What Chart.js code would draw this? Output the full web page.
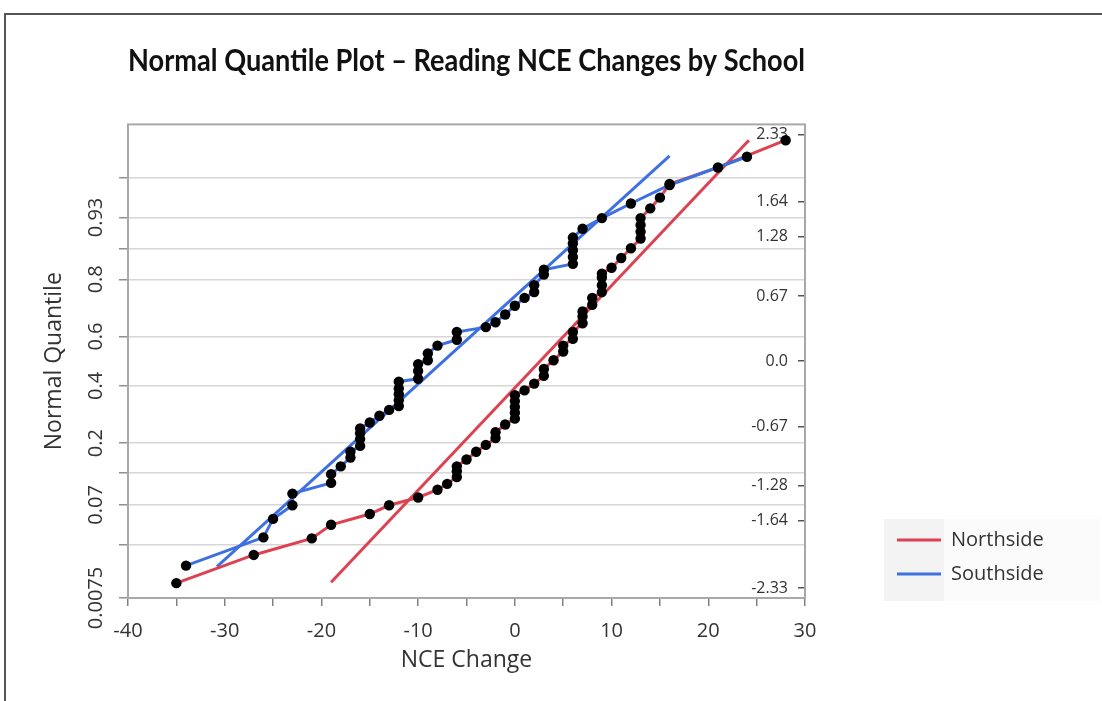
<!DOCTYPE html>
<html>
<head>
<meta charset="utf-8">
<script src="https://cdn.jsdelivr.net/npm/chart.js"></script>
<style>
body{margin:0;background:#fff;width:1102px;height:701px;overflow:hidden;position:relative}
.frame{position:absolute;left:4px;top:13px;width:1200px;height:800px;border-top:2px solid #555;border-left:2px solid #555}
#c{position:absolute;left:0;top:0}
</style>
</head>
<body>
<div class="frame"></div>
<canvas id="c" width="1102" height="701"></canvas>

<script>
/* =========================
   DATA (NCE change, normal quantile)
========================= */
const northX = [-35,-27,-21,-19,-15,-13,-10,-8,-7,-6,-6,-6,-5,-4,-3,-2,-2,-1,0,0,0,0,0,1,2,3,3,4,5,5,6,6,7,7,7,8,8,9,9,9,9,10,11,12,13,13,13,13,14,15,16,21,28];
const northZ = [-2.28,-1.99,-1.82,-1.68,-1.57,-1.48,-1.40,-1.32,-1.26,-1.19,-1.13,-1.08,-1.01,-0.93,-0.86,-0.79,-0.73,-0.65,-0.59,-0.53,-0.47,-0.41,-0.35,-0.30,-0.23,-0.15,-0.08,0.01,0.10,0.16,0.23,0.30,0.39,0.46,0.51,0.58,0.65,0.71,0.78,0.86,0.90,0.96,1.06,1.16,1.26,1.33,1.40,1.47,1.57,1.68,1.82,1.99,2.27];

const southX = [-34,-26,-25,-23,-23,-19,-19,-18,-17,-17,-16,-16,-16,-16,-15,-14,-13,-12,-12,-12,-12,-12,-10,-10,-10,-9,-9,-8,-6,-6,-3,-2,-1,0,1,2,2,3,3,6,6,6,6,6,7,9,12,16,24];
const southZ = [-2.10,-1.81,-1.62,-1.48,-1.36,-1.25,-1.16,-1.08,-0.99,-0.93,-0.87,-0.80,-0.74,-0.69,-0.63,-0.56,-0.50,-0.46,-0.40,-0.34,-0.28,-0.21,-0.18,-0.10,-0.03,0.01,0.08,0.16,0.22,0.30,0.35,0.40,0.48,0.57,0.65,0.71,0.78,0.89,0.94,1.00,1.07,1.14,1.21,1.27,1.36,1.47,1.62,1.81,2.10];

// fitted normal lines (end points)
const northFitX = [-19.0, 24.2];
const northFitZ = [-2.27, 2.27];
const southFitX = [-30.8, 16.0];
const southFitZ = [-2.11, 2.11];

// axes
const xTickValues = [-40,-35,-30,-25,-20,-15,-10,-5,0,5,10,15,20,25,30];
const xTickLabels = ['-40','','-30','','-20','','-10','','0','','10','','20','','30'];
const probTicks  = [0.0075,0.03,0.07,0.125,0.2,0.4,0.6,0.8,0.875,0.93,0.97];
const probLabels = ['0.0075','','0.07','','0.2','0.4','0.6','0.8','','0.93',''];
const zTicks  = [-2.33,-1.64,-1.28,-0.67,0,0.67,1.28,1.64,2.33];
const zLabels = ['-2.33','-1.64','-1.28','-0.67','0.0','0.67','1.28','1.64','2.33'];

/* =========================
   HELPERS
========================= */
// inverse normal cdf (Acklam) - probability axis transform
function qnorm(p){
  const a=[-39.69683028665376,220.9460984245205,-275.9285104469687,138.3577518672690,-30.66479806614716,2.506628277459239];
  const b=[-54.47609879822406,161.5858368580409,-155.6989798598866,66.80131188771972,-13.28068155288572];
  const c=[-0.007784894002430293,-0.3223964580411365,-2.400758277161838,-2.549732539343734,4.374664141464968,2.938163982698783];
  const d=[0.007784695709041462,0.3224671290700398,2.445134137142996,3.754408661907416];
  const lo=0.02425;
  let q,r;
  if(p<lo){q=Math.sqrt(-2*Math.log(p));return (((((c[0]*q+c[1])*q+c[2])*q+c[3])*q+c[4])*q+c[5])/((((d[0]*q+d[1])*q+d[2])*q+d[3])*q+1);}
  if(p>1-lo){q=Math.sqrt(-2*Math.log(1-p));return -(((((c[0]*q+c[1])*q+c[2])*q+c[3])*q+c[4])*q+c[5])/((((d[0]*q+d[1])*q+d[2])*q+d[3])*q+1);}
  q=p-0.5;r=q*q;
  return (((((a[0]*r+a[1])*r+a[2])*r+a[3])*r+a[4])*r+a[5])*q/(((((b[0]*r+b[1])*r+b[2])*r+b[3])*r+b[4])*r+1);
}

const pts=(xs,ys)=>xs.map((x,i)=>({x:x,y:ys[i]}));

const RED="#dc4252";
const BLUE="#3f70e2";
const TXT="#333";
const Z_MAX=qnorm(1-0.0075);
const LEGEND_LEFT=883;

/* =========================
   PLUGINS
========================= */
const decor={
  id:"decor",
  beforeDraw(chart){
    const {ctx,legend}=chart;
    if(!legend || !legend.legendHitBoxes || !legend.legendHitBoxes.length) return;
    const hb=legend.legendHitBoxes;
    const x0=hb[0].left-13, y0=hb[0].top-11;
    const y1=hb[hb.length-1].top+hb[hb.length-1].height+17;
    ctx.save();
    ctx.fillStyle="#fbfbfb";
    ctx.fillRect(x0,y0,chart.width-2-x0,y1-y0);
    ctx.fillStyle="#f3f3f3";
    ctx.fillRect(x0,y0,60,y1-y0);
    ctx.restore();
  },
  beforeDatasetsDraw(chart){
    const {ctx,chartArea:a}=chart;
    ctx.save();
    ctx.strokeStyle="#a8a8a8";
    ctx.lineWidth=2;
    ctx.strokeRect(a.left,a.top,a.right-a.left,a.bottom-a.top);
    ctx.restore();
  }
};

/* =========================
   CHART
========================= */
const lineSet=(label,data,color,order)=>({
  label:label,data:data,showLine:true,borderColor:color,backgroundColor:color,
  borderWidth:3,pointRadius:0,tension:0,order:order
});
const dotSet=(data)=>({
  label:"",data:data,showLine:false,pointRadius:5.2,pointBorderWidth:0,
  pointBackgroundColor:"#000",order:0
});

const chart=new Chart(document.getElementById("c"),{
  type:"scatter",
  data:{datasets:[
    lineSet("Northside",pts(northX,northZ),RED,3),
    lineSet("Southside",pts(southX,southZ),BLUE,2),
    lineSet("",pts(northFitX,northFitZ),RED,5),
    lineSet("",pts(southFitX,southFitZ),BLUE,4),
    dotSet(pts(northX,northZ)),
    dotSet(pts(southX,southZ))
  ]},
  options:{
    responsive:false,
    animation:false,
    events:[],
    layout:{padding:{left:0,top:0,right:58,bottom:0}},
    plugins:{
      tooltip:{enabled:false},
      title:{
        display:true,
        text:"Normal Quantile Plot – Reading NCE Changes by School",
        align:"start",
        fullSize:false,
        color:"#111",
        font:{family:"Lato",size:29.5,weight:"bold"},
        padding:{top:44,bottom:45}
      },
      legend:{
        position:"right",
        align:"end",
        fullSize:false,
        labels:{
          usePointStyle:true,
          pointStyle:"line",
          pointStyleWidth:44,
          padding:14,
          color:TXT,
          font:{family:"Open Sans",size:20},
          filter:item=>item.text!=="",
          sort:(a,b)=>a.datasetIndex-b.datasetIndex
        }
      }
    },
    scales:{
      x:{
        type:"linear",position:"bottom",min:-40,max:30,
        afterBuildTicks:s=>{s.ticks=xTickValues.map(v=>({value:v}));},
        afterFit:s=>{s.height=103;},
        border:{display:false},
        grid:{drawOnChartArea:false,drawTicks:true,tickLength:8,color:"#808080",lineWidth:1.5},
        ticks:{autoSkip:false,maxRotation:0,padding:13,color:TXT,font:{family:"Open Sans",size:20},
          callback:(v,i)=>xTickLabels[i]},
        title:{display:true,text:"NCE Change",color:TXT,font:{family:"Open Sans",size:23},padding:{top:0,bottom:27}}
      },
      y:{
        type:"linear",position:"left",min:-Z_MAX,max:Z_MAX,
        afterBuildTicks:s=>{s.ticks=probTicks.map(p=>({value:qnorm(p)}));},
        afterFit:s=>{s.width=128;},
        border:{display:false},
        grid:{color:"#d6d6d6",lineWidth:1.5,drawTicks:true,tickLength:9,
          tickColor:"#909090"},
        ticks:{autoSkip:false,minRotation:90,maxRotation:90,crossAlign:"center",padding:-9,
          color:TXT,font:{family:"Open Sans",size:20},
          callback:(v,i)=>probLabels[i]},
        title:{display:true,text:"Normal Quantile",color:TXT,font:{family:"Open Sans",size:23},padding:{top:41,bottom:0}}
      },
      y2:{
        type:"linear",position:"right",min:-Z_MAX,max:Z_MAX,
        afterBuildTicks:s=>{s.ticks=zTicks.map(v=>({value:v}));},
        afterFit:s=>{s.width=78;},
        border:{display:false},
        grid:{drawOnChartArea:false,drawTicks:true,tickLength:-7,color:"#555",lineWidth:1.5},
        ticks:{mirror:true,padding:-17,color:TXT,font:{family:"Open Sans",size:16},
          callback:(v,i)=>zLabels[i]}
      }
    }
  },
  plugins:[decor]
});

// second pass: legend width is known now, keep plot right edge in place
chart.options.layout.padding.right=chart.width-LEGEND_LEFT-chart.legend.width;
chart.update();
</script>
</body>
</html>
